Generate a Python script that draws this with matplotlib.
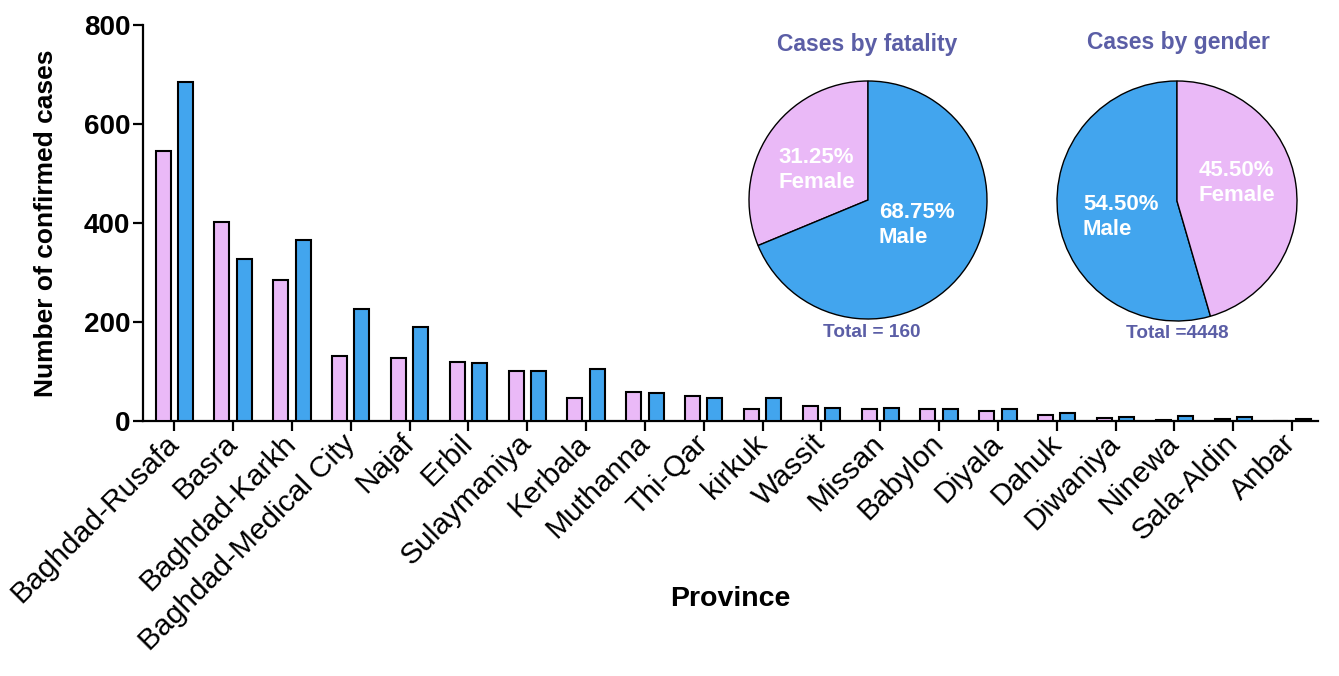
import matplotlib
matplotlib.use("Agg")
import matplotlib.pyplot as plt
import numpy as np

plt.rcParams['font.family'] = ['Liberation Sans', 'DejaVu Sans']

provinces = ["Baghdad-Rusafa", "Basra", "Baghdad-Karkh", "Baghdad-Medical City", "Najaf",
             "Erbil", "Sulaymaniya", "Kerbala", "Muthanna", "Thi-Qar", "kirkuk", "Wassit",
             "Missan", "Babylon", "Diyala", "Dahuk", "Diwaniya", "Ninewa", "Sala-Aldin", "Anbar"]
female = [545, 402, 285, 132, 128, 120, 102, 47, 58, 50, 25, 30, 25, 24, 20, 13, 7, 3, 5, 1]
male = [685, 328, 365, 226, 190, 118, 101, 106, 57, 46, 46, 27, 27, 24, 24, 16, 9, 11, 8, 4]
yticks = [0, 200, 400, 600, 800]

fatality_labels = ["Female", "Male"]
fatality_pct = [31.25, 68.75]
fatality_total = 160
gender_labels = ["Male", "Female"]
gender_pct = [54.50, 45.50]
gender_total = 4448

PINK = "#EAB9F7"
BLUE = "#42A5EE"
TITLE_C = "#5B5EA6"

W, H = 1339, 676
fig = plt.figure(figsize=(W / 100, H / 100), dpi=100)

def px_box(left, top, right, bottom):
    return [left / W, 1 - bottom / H, (right - left) / W, (bottom - top) / H]

ax = fig.add_axes(px_box(143, 25, 1318, 421))
x = np.arange(len(provinces))
bw = 0.255
off = 0.19
ax.bar(x - off, female, width=bw, color=PINK, edgecolor="black", linewidth=1.5, zorder=3)
ax.bar(x + off, male, width=bw, color=BLUE, edgecolor="black", linewidth=1.5, zorder=3)
ax.set_xlim(-0.53, len(provinces) - 1 + 0.44)
ax.set_ylim(0, 800)
ax.set_yticks(yticks)
ax.set_yticklabels([str(v) for v in yticks], fontsize=20, fontweight="bold")
ax.set_xticks(x)
ax.set_xticklabels(provinces, rotation=45, ha="right", va="center",
                   rotation_mode="anchor", fontsize=21.5)
for s in ["top", "right"]:
    ax.spines[s].set_visible(False)
for s in ["left", "bottom"]:
    ax.spines[s].set_linewidth(1.6)
ax.tick_params(axis="both", direction="out", length=7, width=1.6)
ax.tick_params(axis="x", pad=6)
ax.tick_params(axis="y", pad=2)
ax.set_ylabel("Number of confirmed cases", fontsize=19, fontweight="bold")
ax.yaxis.label.set_va("center")
ax.yaxis.set_label_coords(-(143 - 46) / 1175, 0.5, transform=ax.transAxes)
ax.set_xlabel("Province", fontsize=20.5, fontweight="bold")
ax.xaxis.label.set_va("center")
ax.xaxis.set_label_coords(0.5, -(599 - 421) / 396, transform=ax.transAxes)

def draw_pie(center, r, pcts, labels, colors, title, total_text, title_xy, total_xy, text_pos):
    cx, cy = center
    pax = fig.add_axes(px_box(cx - r, cy - r, cx + r, cy + r))
    pax.pie(pcts, colors=colors, startangle=90, counterclock=True,
            wedgeprops=dict(edgecolor="black", linewidth=1.0))
    pax.set_aspect("auto")
    pax.set_xlim(-1.0, 1.0)
    pax.set_ylim(-1.0, 1.0)
    pax.axis("off")
    fig.text(title_xy[0] / W, 1 - title_xy[1] / H, title, ha="center", va="center",
             fontsize=16.5, fontweight="bold", color=TITLE_C)
    fig.text(total_xy[0] / W, 1 - total_xy[1] / H, total_text, ha="center", va="center",
             fontsize=13.7, fontweight="bold", color=TITLE_C)
    for (px, py), p, lab in zip(text_pos, pcts, labels):
        fig.text(px / W, 1 - py / H, f"{p:.2f}%\n{lab}", ha="left", va="center",
                 fontsize=16, fontweight="bold", color="white", linespacing=1.25)

draw_pie((868, 200), 119, fatality_pct, fatality_labels, [PINK, BLUE],
         "Cases by fatality", f"Total = {fatality_total}", (867, 45), (872, 332),
         [(778, 170), (879, 225)])
draw_pie((1177, 201), 120, gender_pct, gender_labels, [BLUE, PINK],
         "Cases by gender", f"Total ={gender_total}", (1178, 42), (1177, 333),
         [(1083, 217), (1199, 183)])

fig.savefig("out.png", dpi=100)
